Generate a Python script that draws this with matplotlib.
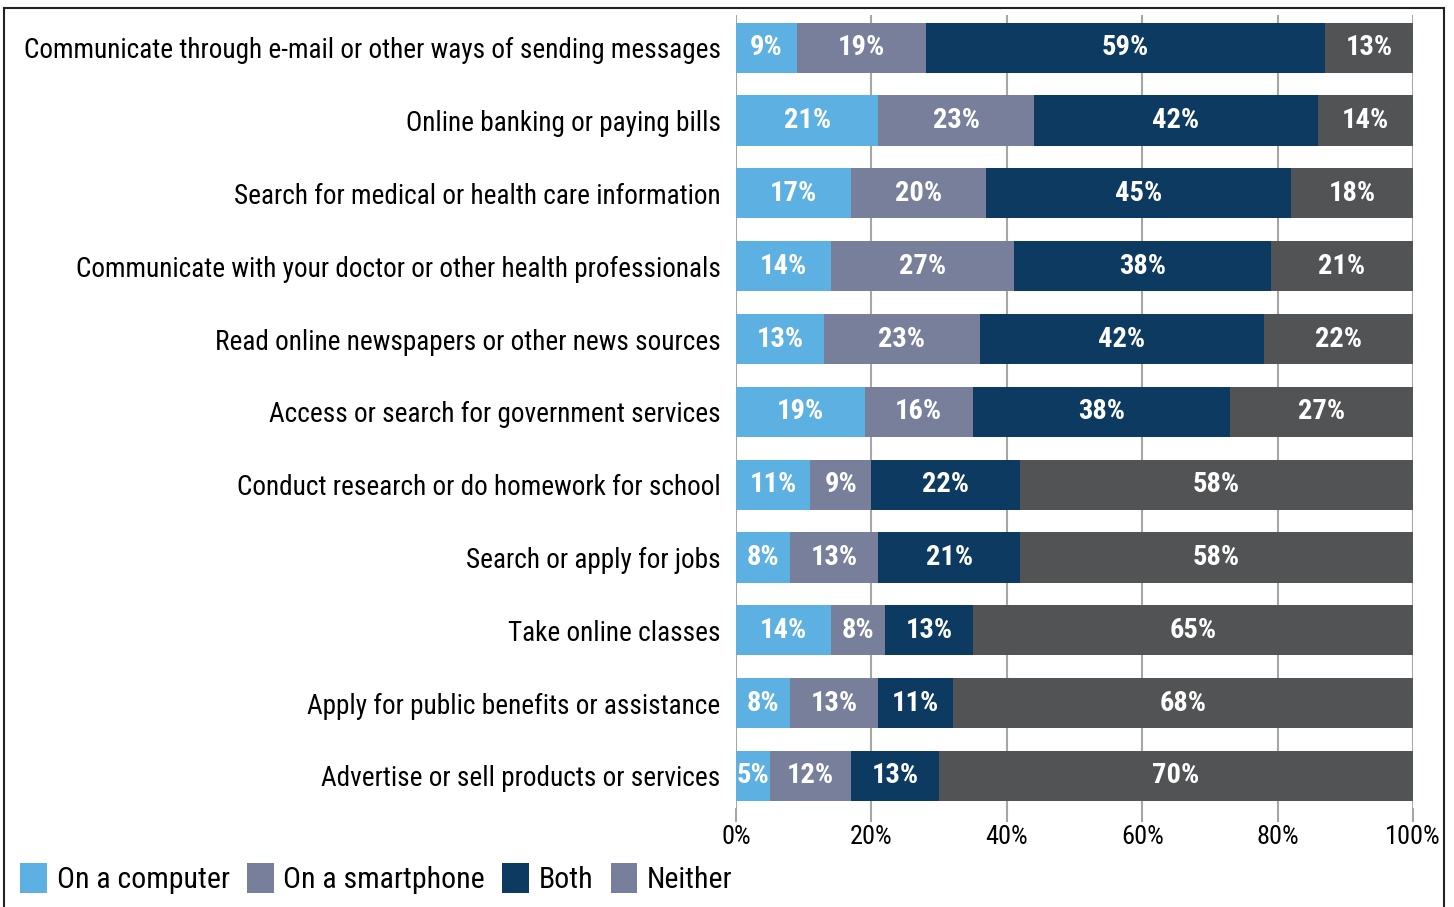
import matplotlib.pyplot as plt
from matplotlib.patches import Patch, Rectangle

plt.rcParams['font.family'] = ['Roboto Condensed', 'DejaVu Sans']

# activities, top to bottom
activities = [
    'Communicate through e-mail or other ways of sending messages',
    'Online banking or paying bills',
    'Search for medical or health care information',
    'Communicate with your doctor or other health professionals',
    'Read online newspapers or other news sources',
    'Access or search for government services',
    'Conduct research or do homework for school',
    'Search or apply for jobs',
    'Take online classes',
    'Apply for public benefits or assistance',
    'Advertise or sell products or services',
]
computer = [9, 21, 17, 14, 13, 19, 11, 8, 14, 8, 5]
smartphone = [19, 23, 20, 27, 23, 16, 9, 13, 8, 13, 12]
both = [59, 42, 45, 38, 42, 38, 22, 21, 13, 11, 13]
neither = [13, 14, 18, 21, 22, 27, 58, 58, 65, 68, 70]

series = ['On a computer', 'On a smartphone', 'Both', 'Neither']
colors = ['#5DB0E2', '#787F9A', '#0D3A60', '#525355']
legend_colors = ['#5DB0E2', '#787F9A', '#0D3A60', '#787F9A']

fig = plt.figure(figsize=(14.54, 9.07), dpi=100)
ax = fig.add_axes([0.5062, 0.1092, 0.4656, 0.8743])

# stacked bars with white value labels
y = list(range(len(activities)))
left = [0] * len(activities)
for vals, col in zip([computer, smartphone, both, neither], colors):
    bars = ax.barh(y, vals, left=left, height=0.69, color=col, zorder=3)
    for rect, v in zip(bars, vals):
        ax.text(rect.get_x() + rect.get_width() / 2, rect.get_y() + rect.get_height() / 2,
                f'{v}%', ha='center', va='center', color='white',
                fontsize=20.5, fontweight='bold', zorder=4)
    left = [a + b for a, b in zip(left, vals)]

ax.set_xlim(0, 100)
ax.set_ylim(10.44, -0.45)
ax.set_xticks([0, 20, 40, 60, 80, 100])
ax.set_xticklabels([f'{t}%' for t in range(0, 101, 20)], fontsize=19)
ax.set_yticks(y)
ax.set_yticklabels(activities, fontsize=19.6)
ax.tick_params(axis='y', length=0, pad=11)
ax.tick_params(axis='x', length=10, width=1.5, color='#A6A6A6', pad=2)
ax.grid(axis='x', color='#A6A6A6', linewidth=1.5, zorder=0)
for s in ax.spines.values():
    s.set_visible(False)

handles = [Patch(facecolor=c, label=l) for c, l in zip(legend_colors, series)]
fig.legend(handles=handles, loc='lower left', bbox_to_anchor=(20 / 1454, 13 / 907), ncol=4,
           frameon=False, fontsize=21.5, handlelength=0.9, handleheight=1.15,
           handletextpad=0.33, columnspacing=0.57, borderpad=0, borderaxespad=0)

# outer frame
fig.patches.append(Rectangle((4 / 1454, -0.05), 1440 / 1454, 1.05 - 8 / 907,
                             transform=fig.transFigure, fill=False,
                             edgecolor='#222222', linewidth=1.5))

fig.savefig('out.png', dpi=100)
